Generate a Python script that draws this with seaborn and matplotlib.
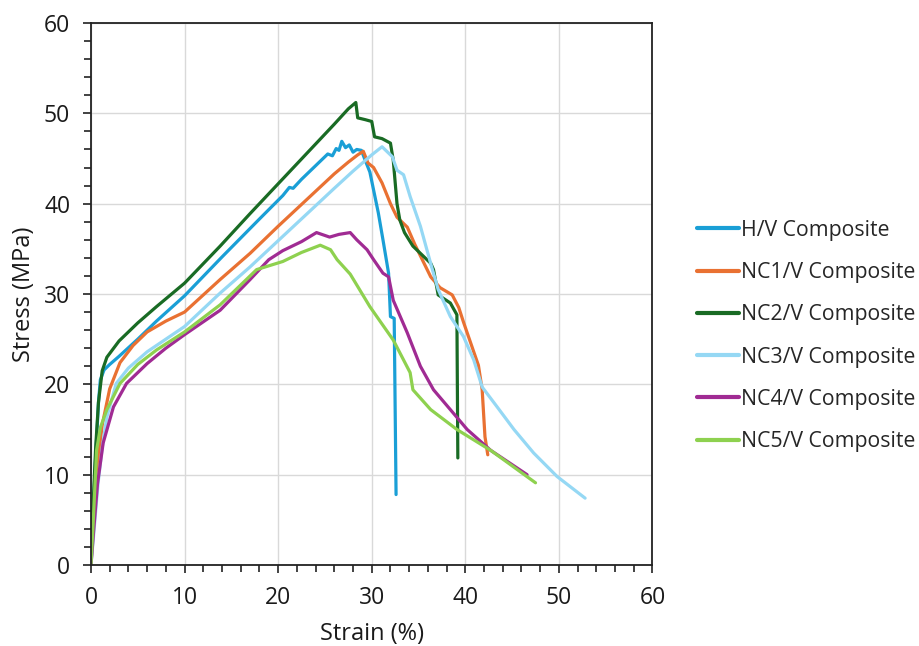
import numpy as np
import pandas as pd
import matplotlib
matplotlib.use("Agg")
import matplotlib.pyplot as plt
from matplotlib.ticker import MultipleLocator
import seaborn as sns

series_names = ["H/V Composite", "NC1/V Composite", "NC2/V Composite",
                "NC3/V Composite", "NC4/V Composite", "NC5/V Composite"]

hv_strain = [0, 0.2, 0.5, 0.8, 1.0, 1.4, 2, 3, 5, 7, 10, 14, 18, 20.5, 21.2, 21.6, 22.5, 24,
             25.3, 25.8, 26.2, 26.5, 26.8, 27.2, 27.6, 28.0, 28.4, 28.9, 29.3, 29.8, 30.2, 30.7,
             31.2, 31.8, 32.0, 32.4, 32.6]
hv_stress = [0, 5, 12, 18, 20.5, 21.6, 22.2, 23.1, 25.0, 27.0, 29.8, 34.1, 38.3, 40.9, 41.8, 41.7,
             42.7, 44.2, 45.5, 45.3, 46.1, 45.9, 46.9, 46.2, 46.5, 45.7, 46.0, 45.9, 44.8, 43.5,
             41.5, 39.0, 36.0, 32.3, 27.5, 27.3, 7.8]

nc1_strain = [0, 0.3, 0.7, 1.2, 2, 3.1, 4.5, 6, 8, 10, 13.8, 17, 20, 23, 26, 27.5, 28.5, 29.1,
              29.6, 30.2, 31.1, 32, 32.7, 33.8, 34.6, 35.4, 36.3, 37.3, 38.6, 39.3, 39.8, 40.7,
              41.4, 41.8, 42.1, 42.4]
nc1_stress = [0, 5, 11, 15.5, 19.5, 22.4, 24.3, 25.8, 27.0, 28.0, 31.6, 34.5, 37.5, 40.4, 43.3,
              44.6, 45.4, 45.8, 44.5, 44.0, 42.3, 40.0, 38.5, 37.4, 35.5, 33.8, 31.9, 30.7, 29.9,
              28.5, 26.9, 24.2, 22.1, 19.4, 14.2, 12.2]

nc2_strain = [0, 0.2, 0.5, 0.8, 1.2, 1.7, 3, 5, 7, 10, 13.8, 17, 20, 23, 26, 27.5, 28.3, 28.5,
              29.3, 30.0, 30.3, 31.1, 32.0, 32.3, 32.7, 33.0, 33.5, 34.4, 35.2, 36.3, 36.6, 37.1,
              38.4, 39.1, 39.2]
nc2_stress = [0, 6, 13, 18, 21.5, 23.0, 24.8, 26.8, 28.6, 31.2, 35.3, 38.9, 42.2, 45.5, 48.8,
              50.5, 51.2, 49.5, 49.3, 49.1, 47.4, 47.2, 46.7, 44.8, 40.0, 38.2, 36.8, 35.3, 34.5,
              33.4, 32.7, 29.9, 29.0, 27.7, 11.85]

nc3_strain = [0, 0.3, 0.75, 1.2, 1.7, 2.7, 4, 6, 8, 10, 13.8, 17, 20, 23, 26, 28, 30, 31.1,
              32.2, 32.7, 33.4, 34.1, 35.2, 36.4, 37.1, 38.4, 39.8, 40.9, 41.8, 43.4, 45.2,
              47.3, 49.8, 52.8]
nc3_stress = [0, 3.5, 9, 13, 16.4, 20.1, 21.8, 23.6, 25.0, 26.4, 30.1, 33.0, 35.9, 38.8, 41.7,
              43.6, 45.4, 46.3, 45.2, 43.7, 43.2, 40.8, 37.5, 33.0, 30.5, 27.5, 25.3, 22.7, 19.7,
              17.5, 15.0, 12.4, 9.8, 7.4]

nc4_strain = [0, 0.3, 0.7, 1.3, 2.4, 3.8, 6, 8, 10, 13.8, 17, 19, 20.5, 22.5, 24.1, 25.5, 26.5,
              27.7, 28.4, 29.5, 30.2, 31.2, 31.8, 32.3, 33.8, 35.2, 36.6, 38.4, 40.2, 42.7, 46.6]
nc4_stress = [0, 4, 9, 13.5, 17.5, 20.1, 22.3, 24.0, 25.5, 28.2, 31.6, 33.8, 34.8, 35.8, 36.8,
              36.3, 36.6, 36.8, 36.0, 34.9, 33.8, 32.3, 31.9, 29.3, 25.7, 22.0, 19.4, 17.2, 15.0,
              12.7, 10.0]

nc5_strain = [0, 0.25, 0.6, 1.0, 1.7, 3.1, 5, 7, 10, 13.8, 17.7, 20.5, 22.5, 24.5, 25.6,
              26.3, 27.7, 29.8, 32.3, 34.1, 34.4, 36.3, 39.1, 42.7, 47.5]
nc5_stress = [0, 5, 12.7, 15.2, 17.2, 20.1, 22.2, 23.8, 25.8, 28.8, 32.7, 33.6, 34.6, 35.4, 34.9,
              33.8, 32.2, 28.6, 24.9, 21.3, 19.4, 17.2, 15.0, 12.7, 9.1]

colors = ["#1A9FD6", "#E97132", "#196B24", "#95D8F4", "#A02B93", "#8ED14F"]

strains = [hv_strain, nc1_strain, nc2_strain, nc3_strain, nc4_strain, nc5_strain]
stresses = [hv_stress, nc1_stress, nc2_stress, nc3_stress, nc4_stress, nc5_stress]

frames = []
for name, xs, ys in zip(series_names, strains, stresses):
    frames.append(pd.DataFrame({"Strain": xs, "Stress": ys, "Series": name}))
df = pd.concat(frames, ignore_index=True)

sns.set_theme(style="white")
plt.rcParams["font.family"] = ["Open Sans", "DejaVu Sans"]

fig = plt.figure(figsize=(9.19, 6.46), dpi=100)
ax = fig.add_axes([0.099, 0.1254, 0.611, 0.839])

sns.lineplot(data=df, x="Strain", y="Stress", hue="Series", hue_order=series_names,
             palette=colors, sort=False, estimator=None, units="Series",
             linewidth=2.3, ax=ax)

ax.set_xlim(0, 60)
ax.set_ylim(0, 60)
ax.xaxis.set_major_locator(MultipleLocator(10))
ax.yaxis.set_major_locator(MultipleLocator(10))
ax.xaxis.set_minor_locator(MultipleLocator(2))
ax.yaxis.set_minor_locator(MultipleLocator(2))
ax.grid(True, which="major", color="#D9D9D9", linewidth=1.0)
ax.set_axisbelow(True)
for s in ax.spines.values():
    s.set_color("#222222")
    s.set_linewidth(1.3)
ax.tick_params(axis="both", which="major", direction="out", length=6, width=1.2,
               color="#222222", labelsize=16.5, labelcolor="#1a1a1a", pad=9,
               bottom=True, left=True)
ax.tick_params(axis="both", which="minor", direction="out", length=5, width=1.2,
               color="#222222", bottom=True, left=True)
ax.set_xlabel("Strain (%)", fontsize=17, color="#1a1a1a", labelpad=9)
ax.set_ylabel("Stress (MPa)", fontsize=17, color="#1a1a1a", labelpad=6)

leg = ax.legend(loc="center left", bbox_to_anchor=(1.08, 0.4225), frameon=False,
                fontsize=15.3, handlelength=1.95, handletextpad=0.1, labelspacing=1.0,
                borderaxespad=0, borderpad=0)
for line in leg.get_lines():
    line.set_linewidth(3)

fig.savefig("out.png", dpi=100)
